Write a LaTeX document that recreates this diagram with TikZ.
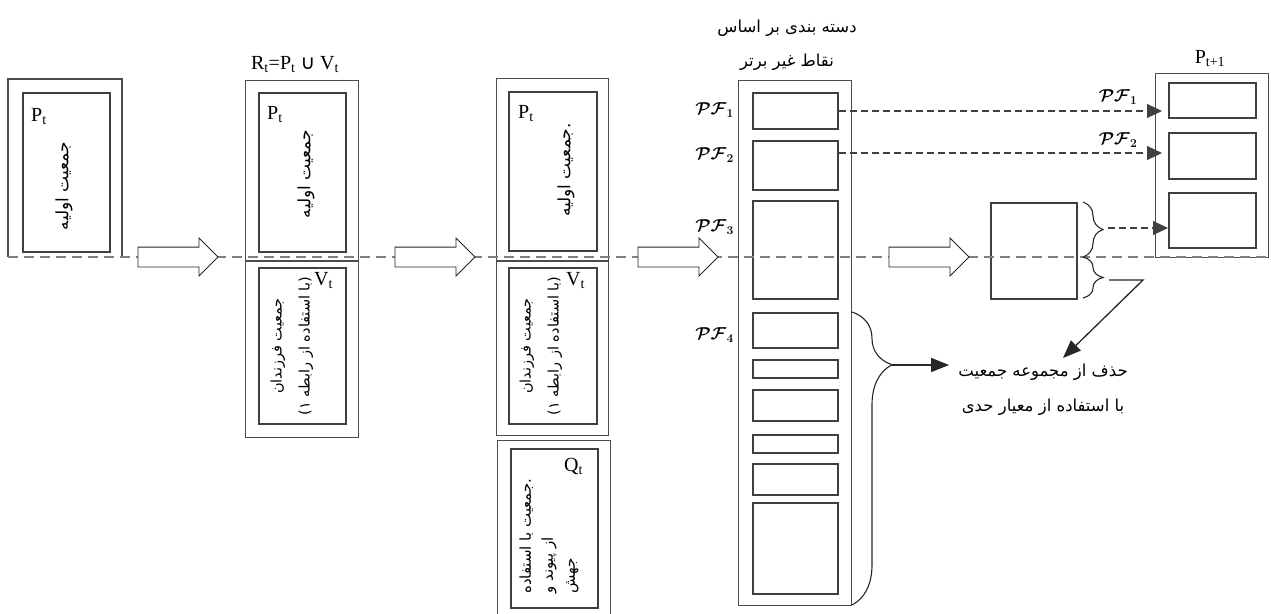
\documentclass[tikz,border=0pt]{standalone}
\usepackage{fontspec}
\setmainfont{Liberation Serif}
\newfontfamily\arabicfont[Script=Arabic]{DejaVu Sans}
\newfontfamily\symbfont{DejaVu Sans}
\TeXXeTstate=1
\usetikzlibrary{arrows.meta,shapes.arrows,decorations.pathreplacing}

\begin{document}
\begin{tikzpicture}[x=1pt,y=-1pt,
  outline/.style={draw=black!70, line width=1.1pt},
  outbox/.style={outline, anchor=north west, inner sep=0pt},
  popbox/.style={draw=black!75, line width=2pt, anchor=north west, inner sep=0pt},
  fatext/.style={font=\fontsize{17}{28}\selectfont\arabicfont, rotate=90, align=center, inner sep=0pt},
  lab/.style={font=\fontsize{20}{22}\selectfont, anchor=north west, inner sep=0pt},
  pflab/.style={font=\fontsize{17}{20}\selectfont\boldmath, inner sep=0pt},
  bigarrow/.style={single arrow, draw=black!85, fill=white, line width=0.9pt,
    minimum height=80pt, minimum width=37pt, single arrow head extend=9pt,
    inner xsep=0pt, inner ysep=9.5pt},
  midline/.style={draw=black!50, line width=1.1pt, dash pattern=on 10pt off 6pt},
  link/.style={draw=black!75, line width=1.1pt, dash pattern=on 7pt off 4pt,
    -{Triangle[length=15pt,width=14pt]}},
  push/.style={draw=black!85, line width=1.3pt, -{Triangle[length=18pt,width=14pt]}},
  curly/.style={draw=black!85, line width=1.1pt, decorate, decoration={brace, amplitude=#1}}
]
\useasboundingbox (0,0) rectangle (1271,613);

% initial population P_t
\draw[outline] (8,257) |- (122,79) -- (122,257);
\node[popbox, minimum width=87pt, minimum height=159pt] (P1) at (22,92) {};
\node[lab] (P1lab) at (31,108) {P\textsubscript{t}};
\node[fatext] (P1txt) at (64,186) {\beginR جمعیت اولیه\endR};

% R_t = P_t U V_t
\node[font=\fontsize{20}{22}\selectfont, anchor=base, inner sep=0pt] (Rlab) at (295,69)
  {R\textsubscript{t}=P\textsubscript{t} {\symbfont ∪} V\textsubscript{t}};
\node[outbox, minimum width=113pt, minimum height=357pt] (R) at (245,80) {};
\draw[outline] (245,261) -- (358,261);
\node[popbox, minimum width=87pt, minimum height=159pt] (P2) at (258,92) {};
\node[popbox, minimum width=87pt, minimum height=156pt] (V2) at (258,267) {};
\node[lab] (P2lab) at (267,106) {P\textsubscript{t}};
\node[lab] (V2lab) at (314,272) {V\textsubscript{t}};
\node[fatext] (P2txt) at (306,174) {\beginR جمعیت اولیه\endR};
\node[fatext, font=\fontsize{14.5}{28}\selectfont\arabicfont] (V2txt) at (292,346)
  {\beginR جمعیت فرزندان\endR\\\beginR (با استفاده از رابطه ۱)\endR};

% P_t, V_t and Q_t
\node[outbox, minimum width=112pt, minimum height=357pt] (R3) at (496,78) {};
\draw[outline] (496,261) -- (608,261);
\node[popbox, minimum width=88pt, minimum height=159pt] (P3) at (508,91) {};
\node[popbox, minimum width=88pt, minimum height=156pt] (V3) at (508,267) {};
\node[lab] (P3lab) at (518,105) {P\textsubscript{t}};
\node[lab] (V3lab) at (566,272) {V\textsubscript{t}};
\node[fatext] (P3txt) at (566,170) {\beginR .جمعیت اولیه\endR};
\node[fatext, font=\fontsize{14.5}{28}\selectfont\arabicfont] (V3txt) at (541,346)
  {\beginR جمعیت فرزندان\endR\\\beginR (با استفاده از رابطه ۱)\endR};
\node[outbox, minimum width=113pt, minimum height=175pt] (Q3) at (497,440) {};
\node[popbox, minimum width=87pt, minimum height=159pt] (Qin) at (510,448) {};
\node[lab] (Qlab) at (564,458) {Q\textsubscript{t}};
\node[fatext, align=left, anchor=west, font=\fontsize{15}{22}\selectfont\arabicfont] (Qtxt) at (549,594)
  {\beginR .جمعیت با استفاده\endR\\\beginR از پیوند و\endR\\\beginR جهش\endR};

% sorting into fronts
\node[font=\fontsize{16.5}{34}\selectfont\arabicfont, align=center, inner sep=0pt] (sort) at (787,45)
  {\beginR دسته بندی بر اساس\endR\\\beginR نقاط غیر برتر\endR};
\node[outbox, minimum width=113pt, minimum height=525pt] (F) at (738,80) {};
\foreach \y/\h [count=\i] in {92/36,140/49,200/98,312/35,359/18,389/31,434/18,463/31,502/91}
  \node[popbox, minimum width=85pt, minimum height=\h pt] (F\i) at (752,\y) {};
\node[pflab, anchor=east] (PF1) at (734,110) {$\mathcal{PF}_1$};
\node[pflab, anchor=east] (PF2) at (734,155) {$\mathcal{PF}_2$};
\node[pflab, anchor=east] (PF3) at (734,227) {$\mathcal{PF}_3$};
\node[pflab, anchor=east] (PF4) at (734,335) {$\mathcal{PF}_4$};

% split front
\node[popbox, minimum width=86pt, minimum height=96pt] (M) at (990,202) {};

% next population P_{t+1}
\node[font=\fontsize{20}{22}\selectfont, anchor=base, inner sep=0pt] (Nlab) at (1210,63) {P\textsubscript{t+1}};
\node[outbox, minimum width=113pt, minimum height=184pt] (N) at (1155,73) {};
\foreach \y/\h [count=\i] in {82/35,132/46,192/55}
  \node[popbox, minimum width=87pt, minimum height=\h pt] (N\i) at (1168,\y) {};
\node[pflab] (PF1r) at (1118,97) {$\mathcal{PF}_1$};
\node[pflab] (PF2r) at (1118,140) {$\mathcal{PF}_2$};

% dashed middle line and the big arrows
\draw[midline] (8,257) -- (1271,257);
\node[bigarrow] (go1) at (173,257) {};
\node[bigarrow] (go2) at (430,257) {};
\node[bigarrow] (go3) at (673,257) {};
\node[bigarrow] (go4) at (924,257) {};

% fronts copied over
\coordinate (s2) at ([yshift=-13pt]F2.north east);
\draw[link, shorten >=6pt] (F1.east) -- (F1.east -| N1.west);
\draw[link, shorten >=6pt] (s2) -- (s2 -| N2.west);
\draw[curly=20pt] (1083,202) -- (1083,257);
\draw[curly=20pt] (1083,257) -- (1083,298);
\coordinate (keep) at (1108,228);
\draw[link] (keep) -- (keep -| N3.west);

% rejected part
\node[font=\fontsize{16.5}{35}\selectfont\arabicfont, align=center, inner sep=0pt] (note) at (1043,390)
  {\beginR حذف از مجموعه جمعیت\endR\\\beginR با استفاده از معیار حدی\endR};
\draw[curly=40pt, decoration={aspect=0.18}] (852,312) -- (852,605);
\coordinate (drop) at (892,365);
\draw[push, shorten >=9pt] (drop) -- (drop -| note.west);
\draw[push] (1109,280) -- (1143,280) -- ([xshift=20pt,yshift=6pt]note.north);
\end{tikzpicture}
\end{document}
